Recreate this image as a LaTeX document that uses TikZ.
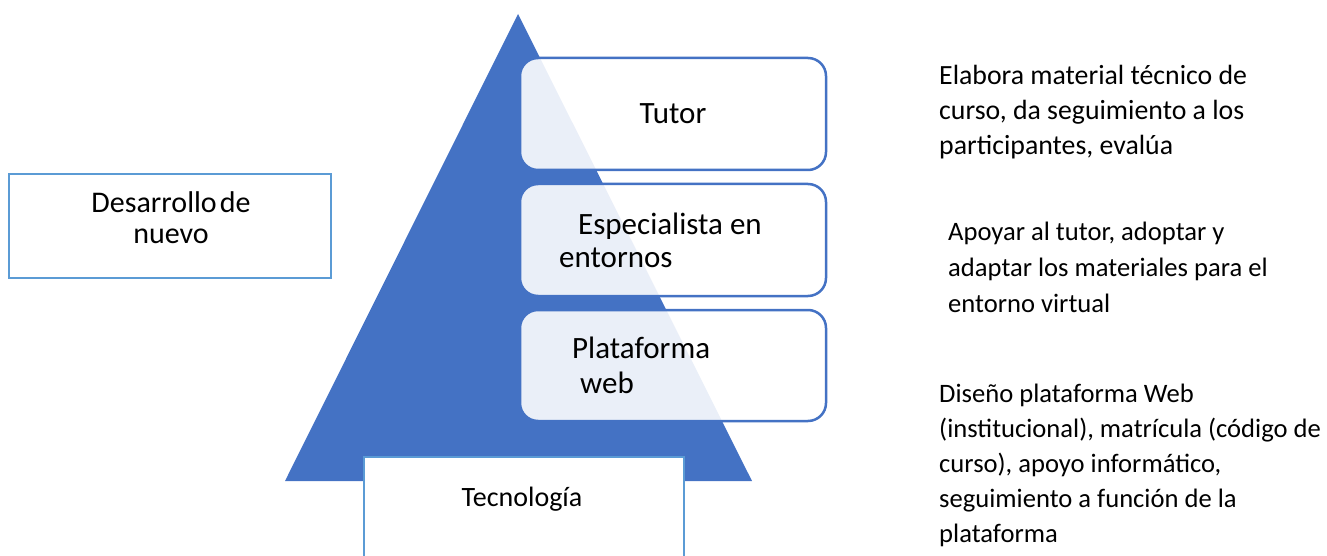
\documentclass[tikz,border=0pt]{standalone}
\usepackage{fontspec}
\setmainfont{Carlito}
\definecolor{tri}{HTML}{4472C4}
\definecolor{lbord}{HTML}{5B9BD5}
\tikzset{
  rbox/.style={draw=tri, line width=2.5pt, rounded corners=18pt, fill=white, fill opacity=0.89, text opacity=1},
  sbox/.style={draw=lbord, line width=2.5pt, fill=white},
  big/.style={font=\fontsize{31}{35}\selectfont, inner sep=0pt},
  mid/.style={font=\fontsize{28}{32}\selectfont, inner sep=0pt},
  lmid/.style={font=\fontsize{30}{32}\selectfont, inner sep=0pt},
}
\newcommand{\desc}[3]{\parbox[t]{460pt}{\raggedright\fontsize{#1}{#2}\selectfont #3}}
\begin{document}
\begin{tikzpicture}[x=1pt,y=-1pt]
\useasboundingbox (0,0) rectangle (1327,556);
\clip (0,0) rectangle (1327,556);
% pyramid
\fill[tri] (518,14) coordinate (apex) -- (752,481) coordinate (br) -- (285,481) coordinate (bl) -- cycle;
% rounded boxes
\draw[rbox] (520,58) rectangle (826,170);
\node[inner sep=0] (tutorbox) at (673,114) {};
\draw[rbox] (520,184) rectangle (826,296);
\node[inner sep=0] (espbox) at (673,240) {};
\draw[rbox] (520,310) rectangle (826,421);
\node[inner sep=0] (platbox) at (673,365) {};
\node[big, anchor=base] (tutor) at (673,124) {Tutor};
\node[big, anchor=base west] (esp1) at (578,234) {Especialista en};
\node[big, anchor=base west] (esp2) at (559,267) {entornos};
\node[big, anchor=base west] (plat1) at (572,358) {Plataforma};
\node[big, anchor=base west] (plat2) at (580,393) {web};
% left box
\draw[sbox] (9,174) rectangle (331,278);
\node[lmid, anchor=base] (des1) at (171,212) {Desarrollo\hspace{0.1em}de};
\node[lmid, anchor=base] (des2) at (171,243) {nuevo};
% bottom box
\draw[sbox] (364,457) rectangle (684,562);
\node[mid, anchor=base] (tec) at (522,506) {Tecnología};
% right texts
\node[mid, anchor=base west] (d1) at (939,85) {\desc{27.8}{35}{Elabora material técnico de\\curso, da seguimiento a los\\participantes, evalúa}};
\node[mid, anchor=base west] (d2) at (948,240) {\desc{26.6}{36.5}{Apoyar al tutor, adoptar y\\adaptar los materiales para el\\entorno virtual}};
\node[mid, anchor=base west] (d3) at (939,402) {\desc{26.6}{35}{Diseño plataforma Web\\(institucional), matrícula (código de\\curso), apoyo informático,\\seguimiento a función de la\\plataforma}};
\end{tikzpicture}
\end{document}
